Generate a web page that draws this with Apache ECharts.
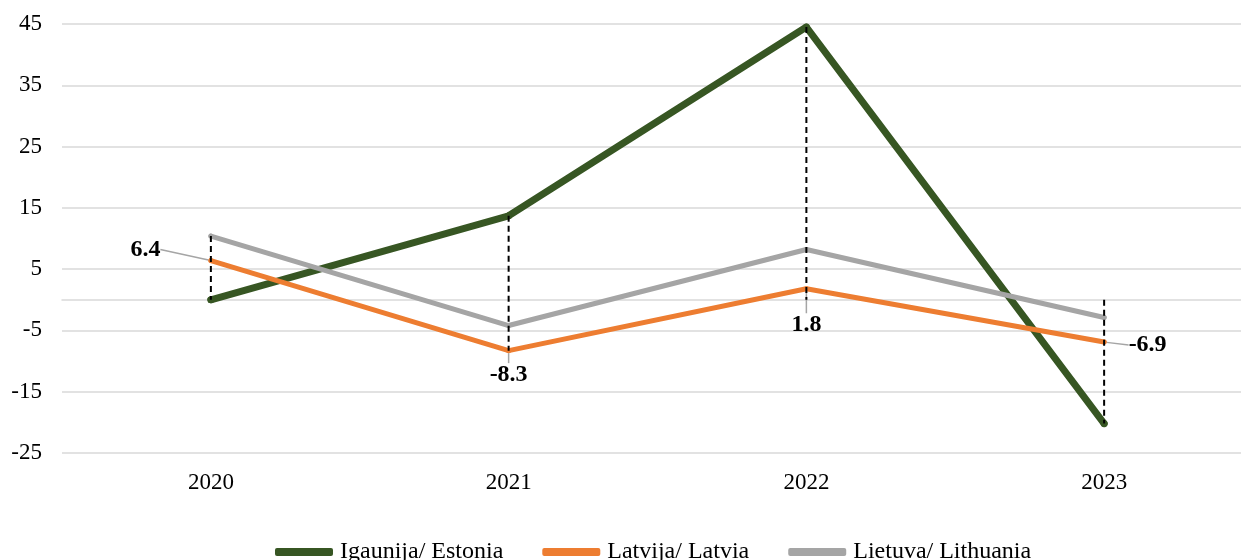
<!DOCTYPE html>
<html>
<head>
<meta charset="utf-8">
<script src="https://cdn.jsdelivr.net/npm/echarts@6/dist/echarts.min.js"></script>
<style>
html,body{margin:0;padding:0;background:#fff;overflow:hidden;}
#chart{width:1260px;height:560px;}
</style>
</head>
<body>
<div id="chart"></div>
<script>
const categories = ['2020', '2021', '2022', '2023'];
const estonia = [0.0, 13.7, 44.5, -20.2];
const latvia = [6.4, -8.3, 1.8, -6.9];
const lithuania = [10.4, -4.2, 8.2, -2.9];
const seriesNames = ['Igaunija/ Estonia', 'Latvija/ Latvia', 'Lietuva/ Lithuania'];
const yTicks = { min: -25, max: 45, interval: 10 };

const FONT = '"Liberation Serif", "Times New Roman", serif';

// drop-line extents per category (from values to zero axis)
const dropData = categories.map((c, i) => {
  const vals = [estonia[i], latvia[i], lithuania[i], 0];
  return [i, Math.max.apply(null, vals), Math.min.apply(null, vals)];
});

const labelPos = ['left', 'bottom', 'bottom', 'right'];
const labelDist = [48, 10, 22, 22];

const chart = echarts.init(document.getElementById('chart'), null, { renderer: 'canvas' });
chart.setOption({
  animation: false,
  backgroundColor: '#fff',
  grid: { left: 62, width: 1191, top: 24, height: 429, containLabel: false },
  xAxis: {
    type: 'category',
    data: categories,
    boundaryGap: true,
    axisLine: { show: true, onZero: true, lineStyle: { color: '#d9d9d9', width: 1.5 } },
    axisTick: { show: false },
    axisLabel: { color: '#000', fontFamily: FONT, fontSize: 23, margin: 18 },
    position: 'bottom'
  },
  yAxis: {
    type: 'value',
    min: yTicks.min, max: yTicks.max, interval: yTicks.interval,
    axisLine: { show: false },
    axisTick: { show: false },
    splitLine: { lineStyle: { color: '#d9d9d9', width: 1.5 } },
    axisLabel: { color: '#000', fontFamily: FONT, fontSize: 23, margin: 20 }
  },
  legend: {
    bottom: -9,
    left: 270,
    itemWidth: 58,
    itemHeight: 8,
    itemGap: 39,
    icon: 'roundRect',
    textStyle: { fontFamily: FONT, fontSize: 24, color: '#000', padding: [0, 0, 0, 2] },
    data: seriesNames
  },
  series: [
    {
      type: 'custom',
      name: 'drop',
      z: 5,
      silent: true,
      renderItem: function (params, api) {
        const p1 = api.coord([api.value(0), api.value(1)]);
        const p2 = api.coord([api.value(0), api.value(2)]);
        return {
          type: 'line',
          shape: { x1: p1[0], y1: p1[1], x2: p2[0], y2: p2[1] },
          style: { stroke: '#000', lineWidth: 2, lineDash: [6, 4] }
        };
      },
      encode: { x: 0, y: [1, 2] },
      data: dropData
    },
    {
      type: 'line',
      name: seriesNames[0],
      data: estonia,
      z: 3,
      color: '#375623',
      symbol: 'circle', symbolSize: 7, showSymbol: true,
      lineStyle: { width: 7, color: '#375623', cap: 'round', join: 'round' },
      itemStyle: { color: '#375623' }
    },
    {
      type: 'line',
      name: seriesNames[1],
      z: 4,
      color: '#ED7D31',
      symbol: 'circle', symbolSize: 5, showSymbol: true,
      lineStyle: { width: 5, color: '#ED7D31', cap: 'round', join: 'round' },
      itemStyle: { color: '#ED7D31' },
      data: latvia.map((v, i) => ({
        value: v,
        label: { show: true, position: labelPos[i], distance: labelDist[i] }
      })),
      label: {
        show: true,
        fontFamily: FONT, fontSize: 24, fontWeight: 'bold', color: '#000',
        formatter: p => Number(p.value).toFixed(1)
      },
      labelLine: { show: true, lineStyle: { color: '#a5a5a5', width: 1.5 } },
      labelLayout: function (params) {
        if (params.dataIndex === 0) return { dy: -11 };
        if (params.dataIndex === 3) return { dy: 3 };
        return {};
      }
    },
    {
      type: 'line',
      name: seriesNames[2],
      data: lithuania,
      z: 3,
      color: '#A5A5A5',
      symbol: 'circle', symbolSize: 5, showSymbol: true,
      lineStyle: { width: 5, color: '#A5A5A5', cap: 'round', join: 'round' },
      itemStyle: { color: '#A5A5A5' }
    }
  ]
});
</script>
</body>
</html>
